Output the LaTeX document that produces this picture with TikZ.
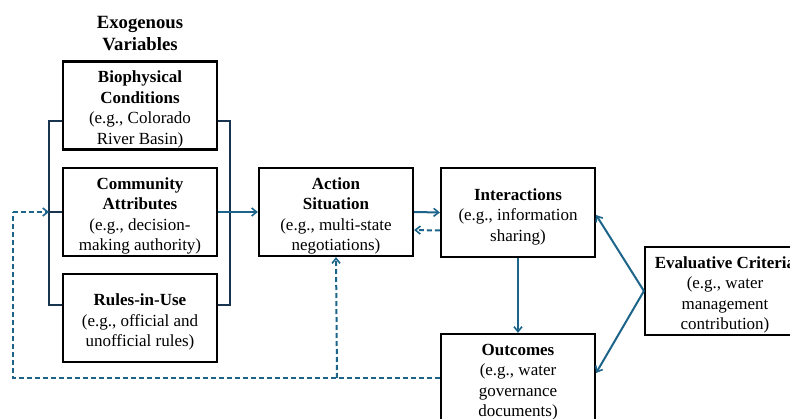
\documentclass[tikz,border=0pt]{standalone}
\usepackage{fontspec}
\setmainfont{Liberation Serif}
\usetikzlibrary{arrows.meta}
\definecolor{conn}{RGB}{28,100,138}
\definecolor{brack}{RGB}{24,52,78}
\newcommand\bxt[1]{\raisebox{0pt}[\dimexpr\height+4pt\relax][\dimexpr\depth-4pt\relax]{\begin{tabular}{@{}c@{}}#1\end{tabular}}}
\tikzset{
  box/.style={draw=black, line width=2.2pt, fill=white, minimum width=154pt, minimum height=88pt, inner sep=2pt, font=\fontsize{17}{20.5}\selectfont},
  link/.style={draw=conn, line width=2pt, -{Straight Barb[length=5pt,width=8pt,line width=1.6pt]}},
  dlink/.style={link, dash pattern=on 5pt off 3pt},
  dline/.style={draw=conn, line width=2pt, dash pattern=on 5pt off 3pt},
  bline/.style={draw=brack, line width=2pt},
}
\begin{document}
\begin{tikzpicture}[x=1pt,y=-1pt]
\useasboundingbox (0,0) rectangle (790,419);
\clip (0,0) rectangle (790,419);
\fill[white] (0,0) rectangle (790,419);
\node[align=center, font=\fontsize{18.7}{22}\selectfont\bfseries] (exo) at (140,34) {Exogenous\\Variables};
% brackets
\coordinate (bl1) at (49,121);
\coordinate (bl2) at (49,305);
\coordinate (blm) at (49,212);
\coordinate (br1) at (230,121);
\coordinate (br2) at (230,305);
\coordinate (fb1) at (13,212);
\coordinate (fb2) at (13,378);
\coordinate (fb3) at (337,378);
\draw[bline] (63,121) -- (bl1) -- (bl2) -- (63,305);
\draw[bline] (217,121) -- (br1) -- (br2) -- (217,305);
\node[box] (bio) at (140,105.5) {\bxt{\textbf{Biophysical}\\\textbf{Conditions}\\(e.g., Colorado\\River Basin)}};
\node[box] (com) at (140,212) {\bxt{\textbf{Community}\\\textbf{Attributes}\\(e.g., decision-\\making authority)}};
\node[box] (rul) at (140,318) {\bxt{\textbf{Rules-in-Use}\\(e.g., official and\\unofficial rules)}};
\node[box] (act) at (336,212) {\bxt{\textbf{Action}\\\textbf{Situation}\\(e.g., multi-state\\negotiations)}};
\node[box, minimum height=89pt] (int) at (518,212.5) {\bxt{\textbf{Interactions}\\(e.g., information\\sharing)}};
\node[box, minimum height=88pt] (out) at (518,378) {\bxt{\textbf{Outcomes}\\(e.g., water\\governance\\documents)}};
\node[box, minimum width=160pt] (eva) at (725,291) {\bxt{\textbf{Evaluative Criteria}\\(e.g., water\\management\\contribution)}};
\draw[bline] (blm) -- (com.west);
\draw[link] (com.east) -- (act.west);
\draw[link] (act.east) -- (int.west);
\draw[dlink] ([yshift=-18pt]int.west) -- ([yshift=-18pt]act.east);
\draw[link] (int.south) -- (out.north);
\draw[link] (eva.west) -- ([yshift=-2.5pt]int.east);
\draw[link] (eva.west) -- ([yshift=5pt]out.east);
\draw[dline] (out.west |- fb2) -- (fb2) -- (fb1);
\draw[dlink] (fb1) -- (blm);
\draw[dlink] (fb3) -- (act.south);
\end{tikzpicture}
\end{document}
